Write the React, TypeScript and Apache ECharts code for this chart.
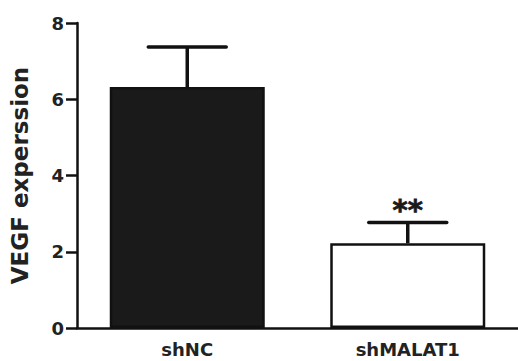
import React, { useEffect, useRef } from "react";
import * as echarts from "echarts";

const categories = ["shNC", "shMALAT1"];
const means = [6.32, 2.22];
const errors = [1.05, 0.55];
const significance = ["", "**"];
const barFills = ["#1a1a1a", "#ffffff"];
const yMin = 0;
const yMax = 8;
const yInterval = 2;

const FONT = "DejaVu Sans";

export default function App() {
  const ref = useRef<HTMLDivElement>(null);
  useEffect(() => {
    if (!ref.current) return;
    const chart = echarts.init(ref.current, null, { renderer: "svg" });
    const errData = categories.map((c, i) => [i, means[i], errors[i]]);
    chart.setOption({
      animation: false,
      backgroundColor: "#ffffff",
      grid: { left: 70, top: 23, width: 459, height: 305, containLabel: false },
      xAxis: {
        type: "category",
        data: categories,
        axisLine: { lineStyle: { color: "#111", width: 2.5 } },
        axisTick: { alignWithLabel: true, length: 7, lineStyle: { color: "#111", width: 2.5 } },
        axisLabel: { color: "#222", fontFamily: FONT, fontWeight: "bold", fontSize: 18, margin: 12 },
      },
      yAxis: {
        type: "value",
        min: yMin,
        max: yMax,
        interval: yInterval,
        name: "VEGF experssion",
        nameLocation: "middle",
        nameGap: 46,
        nameTextStyle: { color: "#222", fontFamily: FONT, fontWeight: "bold", fontSize: 23 },
        axisLine: { show: true, lineStyle: { color: "#111", width: 2.5 } },
        axisTick: { show: true, length: 11, lineStyle: { color: "#111", width: 2.5 } },
        axisLabel: { color: "#222", fontFamily: FONT, fontWeight: "bold", fontSize: 18, margin: 13 },
        splitLine: { show: false },
      },
      series: [
        {
          type: "bar",
          barWidth: 155,
          data: means.map((v, i) => ({
            value: v,
            itemStyle: { color: barFills[i], borderColor: "#111", borderWidth: 2.5 },
          })),
          z: 2,
        },
        {
          type: "custom",
          z: 3,
          data: errData,
          renderItem: (params: any, api: any) => {
            const i = api.value(0);
            const m = api.value(1);
            const e = api.value(2);
            const sig = significance[i];
            const base = api.coord([i, m]);
            const top = api.coord([i, m + e]);
            const half = 39;
            const children: any[] = [
              {
                type: "line",
                shape: { x1: base[0], y1: base[1], x2: top[0], y2: top[1] },
                style: { stroke: "#111", lineWidth: 3.5 },
              },
              {
                type: "line",
                shape: { x1: top[0] - half, y1: top[1], x2: top[0] + half, y2: top[1] },
                style: { stroke: "#111", lineWidth: 3.5, lineCap: "round" },
              },
            ];
            if (sig) {
              children.push({
                type: "text",
                x: top[0],
                y: top[1] + 2,
                style: {
                  text: sig,
                  fill: "#1a1a1a",
                  stroke: "#1a1a1a",
                  lineWidth: 0.8,
                  font: `bold 29px ${FONT}`,
                  align: "center",
                  verticalAlign: "bottom",
                },
              });
            }
            return { type: "group", children };
          },
        },
      ],
    });
    return () => chart.dispose();
  }, []);
  return (
    <div
      ref={ref}
      style={{ position: "fixed", left: 0, top: 0, width: 518, height: 361, background: "#fff" }}
    />
  );
}
